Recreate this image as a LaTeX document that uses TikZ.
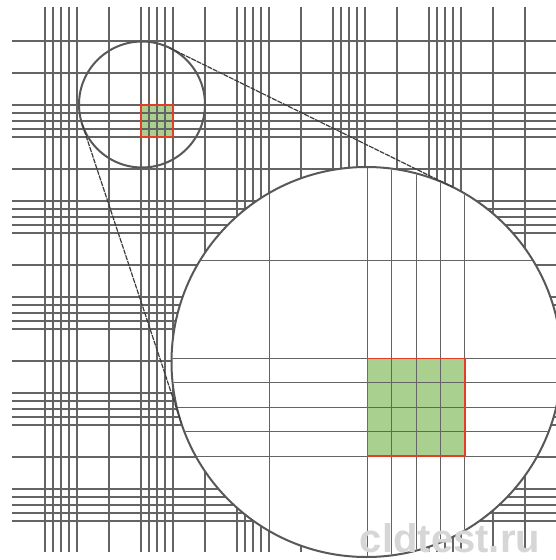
\documentclass[tikz,border=0pt]{standalone}
\usepackage{fontspec}
\newfontfamily\wmfont{Liberation Sans}
\usetikzlibrary{calc}
\definecolor{gridgray}{RGB}{100,100,100}
\definecolor{circgray}{RGB}{88,88,88}
\definecolor{cellgreen}{RGB}{169,208,142}
\definecolor{cellred}{RGB}{226,62,40}
\begin{document}
\begin{tikzpicture}[x=1pt,y=-1pt,
  gridline/.style={draw=gridgray,line width=1.2pt},
  magline/.style={draw=gridgray,line width=1.1pt},
  lens/.style={circle,draw=circgray,line width=2pt,inner sep=0pt,outer sep=0pt},
  cellfill/.style={fill=cellgreen},
  cellborder/.style={draw=cellred,line width=1.3pt},
  tangentline/.style={draw={rgb,255:red,60;green,60;blue,60},line width=1.2pt,dash pattern=on 5pt off 1pt},
  watermark/.style={text=gray!32,font=\wmfont\bfseries\fontsize{40}{40}\selectfont,anchor=base,inner sep=0pt}]
\useasboundingbox (0,0) rectangle (556,560);
\fill[white] (0,0) rectangle (556,560);
% small counting cell fill
\fill[cellfill] (141,105) rectangle (173,137);
% background grid: vertical lines
\foreach \k in {0,...,15}{
  \draw[gridline] ({45+32*\k},7) -- ({45+32*\k},552);
}
\foreach \k in {0,3,6,9,12}{
  \foreach \j in {1,2,3}{
    \draw[gridline] ({45+32*\k+8*\j},7) -- ({45+32*\k+8*\j},552);
  }
}
% background grid: horizontal lines
\foreach \k in {0,...,15}{
  \draw[gridline] (12,{41+32*\k}) -- (560,{41+32*\k});
}
\foreach \k in {2,5,8,11,14}{
  \foreach \j in {1,2,3}{
    \draw[gridline] (12,{41+32*\k+8*\j}) -- (560,{41+32*\k+8*\j});
  }
}
\draw[cellborder] (141,105) rectangle (173,137);
% small lens
\node[lens,minimum size=126pt] (small) at (142,104.5) {};
% big lens (magnified view)
\node[lens,minimum size=390pt,fill=white] (big) at (366.5,362) {};
\begin{scope}
  \clip (big.center) circle[radius=194pt];
  \fill[cellfill] (367.3,358.5) rectangle (464.9,456.1);
  \foreach \v in {109,141,149,157,165,173}{
    \draw[magline] ({-62.75+3.05*\v},160) -- ({-62.75+3.05*\v},560);
  }
  \foreach \h in {73,105,113,121,129,137}{
    \draw[magline] (165,{38.25+3.05*\h}) -- (565,{38.25+3.05*\h});
  }
  \draw[cellborder] (367.3,358.5) rectangle (464.9,456.1);
\end{scope}
% tangent lines
\coordinate (E) at (34.85,-18.40);
\draw[tangentline] (tangent cs:node=small,point={(E)},solution=1) -- (tangent cs:node=big,point={(E)},solution=1);
\draw[tangentline] (tangent cs:node=small,point={(E)},solution=2) -- (tangent cs:node=big,point={(E)},solution=2);
% watermark
\node[watermark] (wm) at (450,552) {cldtest.ru};
\end{tikzpicture}
\end{document}
